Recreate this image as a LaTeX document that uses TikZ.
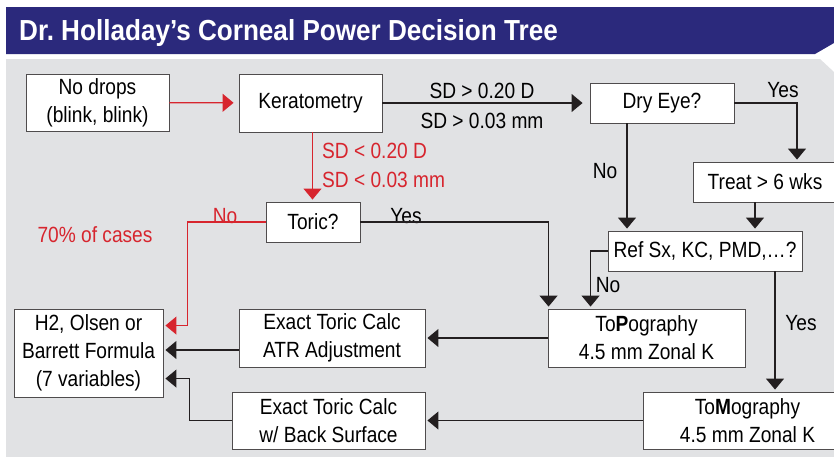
\documentclass[tikz,border=0pt]{standalone}
\usepackage{fontspec}
\setmainfont{Liberation Sans}[FakeStretch=0.87]
\newfontfamily\titlefont{Liberation Sans}[FakeStretch=0.9]
\usetikzlibrary{arrows.meta}
\definecolor{bannerblue}{RGB}{43,41,124}
\definecolor{panelgray}{RGB}{225,226,228}
\definecolor{treered}{RGB}{215,37,46}
\definecolor{lineblack}{RGB}{35,31,32}
\tikzset{box/.style={draw=lineblack!80,fill=white,line width=0.9pt,inner sep=1pt,align=center,font=\fontsize{22}{28}\selectfont}}
\tikzset{lbl/.style={inner sep=0pt,font=\fontsize{22}{28}\selectfont}}
\tikzset{link/.style={draw=lineblack,line width=1.2pt,shorten >=2pt,-{Triangle[length=11pt,width=18pt]}}}
\tikzset{redlink/.style={link,draw=treered}}

\begin{document}
\begin{tikzpicture}[x=1pt,y=-1pt]
  \useasboundingbox (0,0) rectangle (834,456);
  \fill[white] (0,0) rectangle (834,456);
  \fill[bannerblue] (6,7) -- (834,7) -- (834,43) -- (815,54) -- (6,54) -- cycle;
  \fill[panelgray] (6,59) -- (820,59) -- (834,72) -- (834,460) -- (6,460) -- cycle;
  \node[anchor=base west,inner sep=0pt,text=white,font=\titlefont\bfseries\fontsize{29}{32}\selectfont] (title) at (19,40) {Dr.~Holladay’s Corneal Power Decision Tree};

  \node[box,minimum width=143,minimum height=57] (nodrops) at (97.5,102.5) {No drops\\(blink, blink)};
  \node[box,minimum width=143,minimum height=58] (kera) at (310.5,103) {Keratometry};
  \node[box,minimum width=144,minimum height=40] (dry) at (662,103) {Dry Eye?};
  \node[box,minimum width=144,minimum height=40] (treat) at (765,182) {Treat > 6 wks};
  \node[box,minimum width=194,minimum height=40] (ref) at (705,251) {Ref Sx, KC, PMD,\ldots?};
  \node[box,minimum width=94,minimum height=40] (toric) at (313,222) {Toric?};
  \node[box,minimum width=149,minimum height=88] (h2) at (88.5,353) {H2, Olsen or\\Barrett Formula\\(7 variables)};
  \node[box,minimum width=186,minimum height=58] (atr) at (332,338) {Exact Toric Calc\\ATR Adjustment};
  \node[box,minimum width=197,minimum height=58] (topo) at (646.5,338) {To\textbf{P}ography\\4.5 mm Zonal K};
  \node[box,minimum width=193,minimum height=57] (back) at (328.5,420.5) {Exact Toric Calc\\w/ Back Surface};
  \node[box,minimum width=209,minimum height=57] (tomo) at (747.5,420.5) {To\textbf{M}ography\\4.5 mm Zonal K};

  \node[lbl,anchor=base] (sdhigh) at (482,98) {SD > 0.20 D};
  \node[lbl,anchor=base] (sdhighmm) at (482,128) {SD > 0.03 mm};
  \node[lbl,anchor=base west,text=treered] (sdlow) at (322,158) {SD < 0.20 D};
  \node[lbl,anchor=base west,text=treered] (sdlowmm) at (322,187) {SD < 0.03 mm};
  \node[lbl,anchor=base] (dryyes) at (783,97) {Yes};
  \node[lbl,anchor=base] (dryno) at (605,178) {No};
  \node[lbl,anchor=base] (refno) at (608,292) {No};
  \node[lbl,anchor=base] (refyes) at (801,330) {Yes};
  \node[lbl,anchor=base] (toricyes) at (406,223) {Yes};
  \node[lbl,anchor=base,text=treered] (toricno) at (225,223) {No};
  \node[lbl,anchor=base,text=treered] (cases) at (95,242) {70\% of cases};

  \draw[redlink,shorten >=5pt] (nodrops) -- (kera);
  \draw[link,shorten >=7pt] (kera) -- (dry);
  \draw[redlink] ([xshift=2pt]kera.south) -- ([xshift=2pt]kera.south |- toric.north);
  \draw[link] (dry.east) -| ([xshift=32pt]treat.north);
  \draw[link] ([xshift=-35pt]dry.south) -- ([xshift=-35pt]dry.south |- ref.north);
  \draw[link] ([xshift=-10pt]treat.south) -- ([xshift=-10pt]treat.south |- ref.north);
  \draw[link] (ref.west) -| ([xshift=43pt]topo.north west);
  \draw[link] ([xshift=70pt]ref.south) -- ([xshift=70pt]ref.south |- tomo.north);
  \draw[link] (toric.east) -| ([xshift=1pt]topo.north west);
  \draw[redlink] (toric.west) -| ([xshift=24pt,yshift=-17pt]h2.north east) -- ([yshift=-17pt]h2.north east);
  \draw[link] (topo) -- (atr);
  \draw[link] ([yshift=-12pt]atr.west) -- ([yshift=-12pt]atr.west -| h2.east);
  \draw[link] (tomo) -- (back);
  \draw[link] (back.west) -| ([xshift=26pt,yshift=-70pt]h2.north east) -- ([yshift=-70pt]h2.north east);
\end{tikzpicture}
\end{document}
